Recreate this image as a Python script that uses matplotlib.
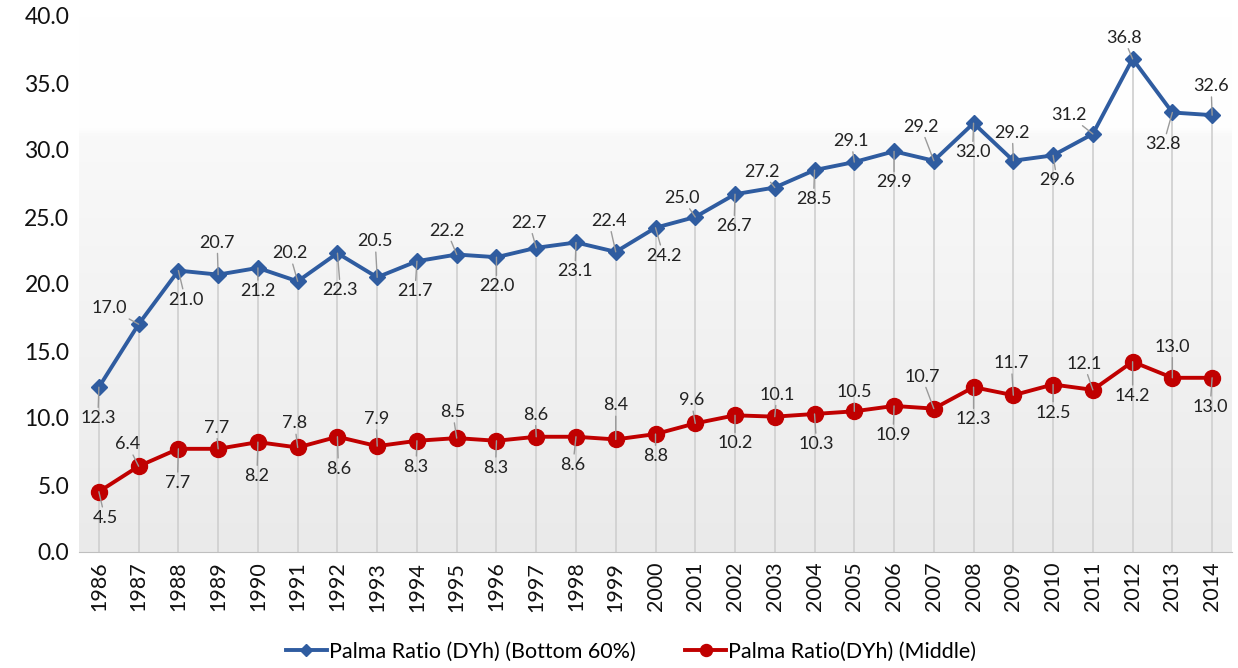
import numpy as np
import matplotlib
matplotlib.use('Agg')
import matplotlib.pyplot as plt
from matplotlib.colors import LinearSegmentedColormap

plt.rcParams['font.family'] = ['Lato', 'DejaVu Sans']

years = list(range(1986, 2015))
bottom60 = [12.3, 17.0, 21.0, 20.7, 21.2, 20.2, 22.3, 20.5, 21.7, 22.2, 22.0, 22.7, 23.1, 22.4, 24.2,
            25.0, 26.7, 27.2, 28.5, 29.1, 29.9, 29.2, 32.0, 29.2, 29.6, 31.2, 36.8, 32.8, 32.6]
middle = [4.5, 6.4, 7.7, 7.7, 8.2, 7.8, 8.6, 7.9, 8.3, 8.5, 8.3, 8.6, 8.6, 8.4, 8.8,
          9.6, 10.2, 10.1, 10.3, 10.5, 10.9, 10.7, 12.3, 11.7, 12.5, 12.1, 14.2, 13.0, 13.0]
name_b = 'Palma Ratio (DYh) (Bottom 60%)'
name_m = 'Palma Ratio(DYh) (Middle)'

# label offsets in pixels (dx, dy down)
off_b = [(-1, 31), (-29, -16), (7, 29), (-1, -32), (0, 23), (-8, -28), (3, 37), (-2, -36), (-2, 30),
         (-10, -24), (0, 29), (-7, -25), (-1, 29), (-7, -31), (8, 28), (-13, -19), (-1, 32), (-13, -16),
         (-1, 29), (-3, -21), (0, 31), (-13, -34), (-1, 29), (-1, -28), (4, 25), (-24, -19), (-9, -21),
         (-9, 32), (-1, -29)]
off_m = [(6, 26), (-11, -22), (-1, 34), (-2, -21), (-1, 34), (-3, -24), (1, 32), (-1, -27), (-1, 26),
         (-4, -26), (-1, 27), (-1, -22), (-3, 28), (0, -34), (0, 22), (-4, -23), (0, 28), (2, -22),
         (2, 30), (0, -19), (-1, 29), (-12, -32), (0, 32), (-2, -32), (0, 28), (-9, -26), (0, 34),
         (0, -31), (-2, 29)]

blue = '#2f5ca0'
red = '#c00000'

fig = plt.figure(figsize=(12.38, 6.68), dpi=100)
ax = fig.add_axes([79/1238, 116/668, 1153/1238, 536/668])
ax.set_xlim(1985.5, 2014.5)
ax.set_ylim(0, 40)

# soft gray gradient background
cmap = LinearSegmentedColormap.from_list('bg', [(0, '#eaeaea'), (0.78, '#f9f9f9'), (0.79, '#fefefe'), (1, '#ffffff')])
grad = np.linspace(0, 1, 256).reshape(-1, 1)
ax.imshow(grad, cmap=cmap, origin='lower', aspect='auto', extent=[1985.5, 2014.5, 0, 40], zorder=0)

ax.vlines(years, 0, bottom60, color='#cfcfcf', lw=1.2, zorder=1)

ax.plot(years, bottom60, color=blue, lw=2.8, marker='D', ms=8.5, label=name_b, zorder=3)
ax.plot(years, middle, color=red, lw=2.8, marker='o', ms=11.5, label=name_m, zorder=3)

for series, offs in ((bottom60, off_b), (middle, off_m)):
    for x, v, (dx, dy) in zip(years, series, offs):
        ax.annotate('%.1f' % v, (x, v), xytext=(dx, -dy), textcoords='offset pixels',
                    ha='center', va='center', fontsize=13, color='#222222', zorder=5,
                    arrowprops=dict(arrowstyle='-', color='#9a9a9a', lw=1, shrinkA=0, shrinkB=0))

for s in ['top', 'right', 'left']:
    ax.spines[s].set_visible(False)
ax.spines['bottom'].set_color('#bfbfbf')
ax.set_yticks(np.arange(0, 41, 5))
ax.set_yticklabels(['%.1f' % t for t in np.arange(0, 41, 5)], fontsize=16.5, color='#111111')
ax.set_xticks(years)
ax.set_xticklabels([str(y) for y in years], rotation=90, fontsize=15.5, color='#111111')
ax.tick_params(length=0, pad=7)

fig.legend(handles=ax.get_lines(), loc='center', bbox_to_anchor=(631/1238, 16/668), ncol=2,
           frameon=False, fontsize=15.5, handlelength=1.9, columnspacing=2.3, handletextpad=0.1,
           markerscale=0.75)

fig.savefig('out.png', dpi=100)
